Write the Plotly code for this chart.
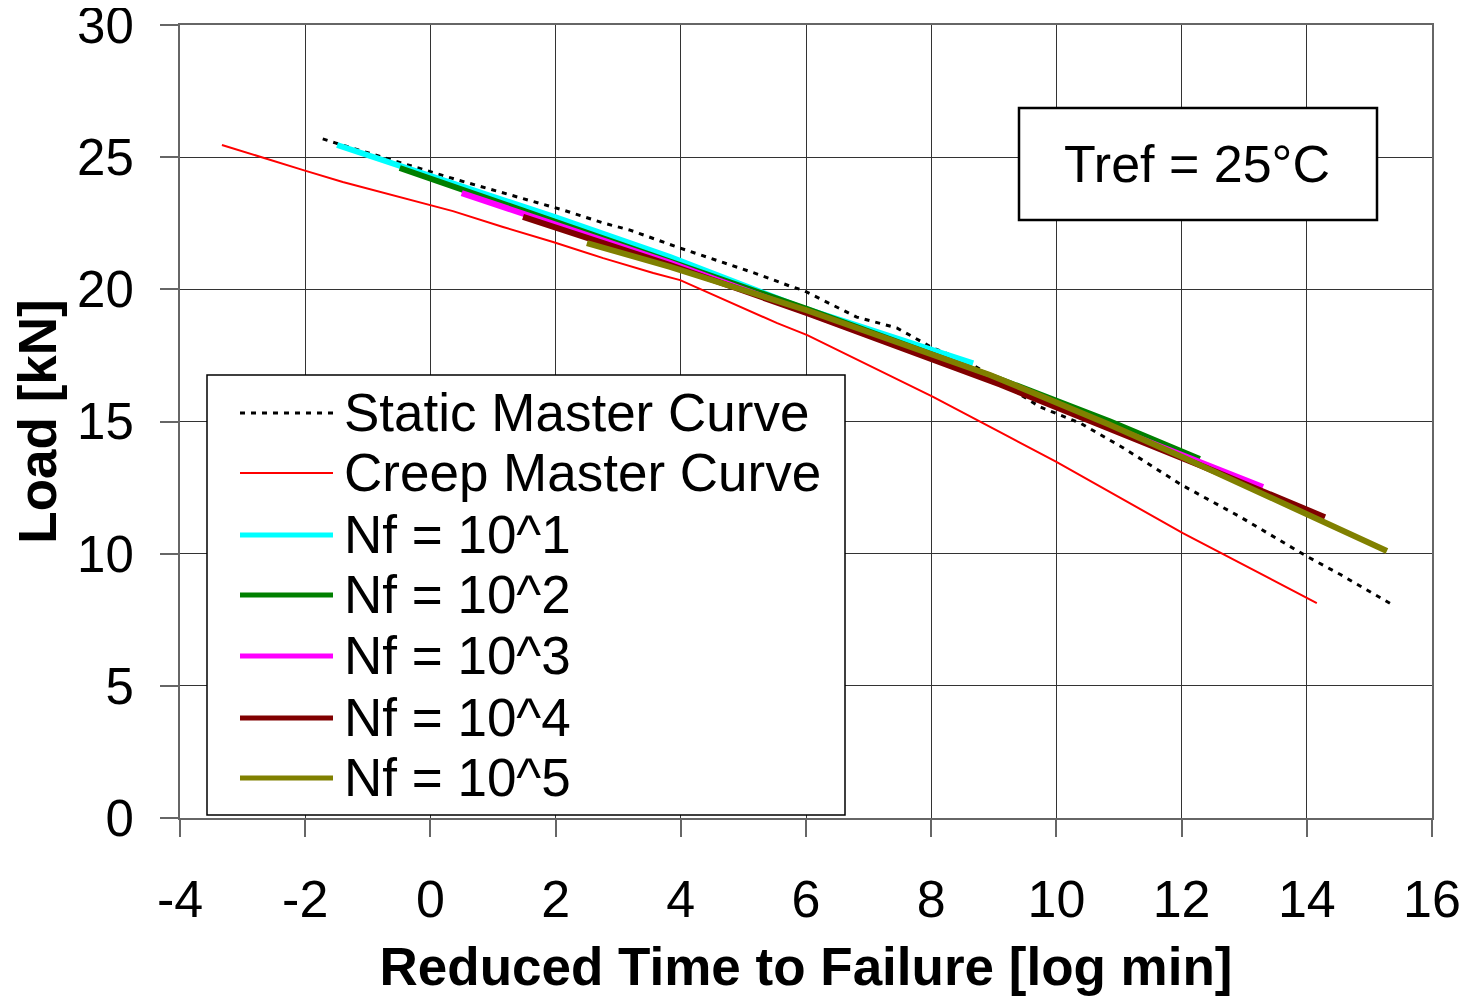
import plotly.graph_objects as go

# Reduced time to failure [log min] vs load [kN]
static_x = [-1.72, -1.52, 0.39, 1.43, 2.12, 2.76, 3.19, 3.94, 5.27, 5.78, 5.95, 6.81,
            7.45, 8.03, 8.62, 9.74, 10.38, 11.07, 12.0, 12.93, 14.0, 14.53, 15.38]
static_y = [25.69, 25.54, 24.17, 23.46, 23.0, 22.51, 22.24, 21.6, 20.54, 20.09, 19.97, 18.95,
            18.54, 17.78, 17.21, 15.55, 14.94, 14.0, 12.6, 11.4, 9.9, 9.22, 8.05]

creep_x = [-3.33, -2.93, -2.03, -1.40, -0.44, 0.36, 1.16, 1.96, 2.76, 3.56, 3.99,
           5.54, 6.02, 7.39, 8.03, 9.10, 9.63, 10.0, 12.02, 13.36, 14.16]
creep_y = [25.46, 25.16, 24.51, 24.06, 23.45, 22.96, 22.36, 21.79, 21.18, 20.62, 20.35,
           18.72, 18.27, 16.68, 15.93, 14.6, 13.92, 13.47, 10.78, 9.12, 8.13]

nf1_x = [-1.49, 0.0, 2.0, 3.83, 5.90, 6.65, 8.67]
nf1_y = [25.46, 24.29, 22.72, 21.22, 19.33, 18.76, 17.2]

nf2_x = [-0.49, 3.83, 6.02, 9.1, 10.86, 12.29]
nf2_y = [24.59, 21.03, 19.25, 16.6, 15.0, 13.58]

nf3_x = [0.50, 3.83, 6.02, 9.1, 12.29, 13.3]
nf3_y = [23.64, 21.0, 19.12, 16.45, 13.47, 12.52]

nf4_x = [1.48, 3.83, 6.02, 9.1, 12.29, 14.29]
nf4_y = [22.74, 20.92, 19.1, 16.4, 13.35, 11.38]

nf5_x = [2.50, 3.83, 6.02, 8.94, 10.86, 12.02, 15.28]
nf5_y = [21.75, 20.85, 19.2, 16.76, 14.87, 13.65, 10.1]

x_ticks = [-4, -2, 0, 2, 4, 6, 8, 10, 12, 14, 16]
x_ticktext = ["-4", "-2", "0", "2", "4", "6", "8", "10", "12", "14", "16"]
y_ticks = [0, 5, 10, 15, 20, 25, 30]

names = ["Static Master Curve", "Creep Master Curve", "Nf = 10^1", "Nf = 10^2",
         "Nf = 10^3", "Nf = 10^4", "Nf = 10^5"]
colors = ["black", "#ff0000", "#00ffff", "#008000", "#ff00ff", "#800000", "#808000"]
widths = [3, 2, 6, 6, 6, 6, 6]
dashes = ["5px,6px", "solid", "solid", "solid", "solid", "solid", "solid"]
series = [(static_x, static_y), (creep_x, creep_y), (nf1_x, nf1_y), (nf2_x, nf2_y),
          (nf3_x, nf3_y), (nf4_x, nf4_y), (nf5_x, nf5_y)]

FONT = "Arial, Liberation Sans, sans-serif"
OFF = 8  # the page body has an 8px margin; lay out in page pixels then shift
W, H = 1468 - OFF, 996 - OFF
L, R, T, B = 180, 1432, 25, 818  # plot area in page pixels


def px(x):
    return (x - L) / (R - L)


def py(y):
    return (B - y) / (B - T)


fig = go.Figure()
for (xs, ys), name, c, w, d in zip(series, names, colors, widths, dashes):
    fig.add_trace(go.Scatter(x=xs, y=ys, mode="lines", name=name,
                             line=dict(color=c, width=w, dash=d), showlegend=False))

shapes = []
annotations = []

# hand-made legend box (long line samples like the original)
shapes.append(dict(type="rect", xref="paper", yref="paper",
                   x0=px(207), x1=px(845), y0=py(815), y1=py(375),
                   line=dict(color="black", width=1.5), fillcolor="white", layer="above"))
rows = [413, 473, 535, 595, 656, 718, 778]
for row, name, c, w, d in zip(rows, names, colors, widths, dashes):
    shapes.append(dict(type="line", xref="paper", yref="paper",
                       x0=px(240), x1=px(333), y0=py(row), y1=py(row),
                       line=dict(color=c, width=min(w, 5), dash=d), layer="above"))
    annotations.append(dict(xref="paper", yref="paper", x=px(342), y=py(row - 1),
                            text=name, showarrow=False, xanchor="left", yanchor="middle",
                            font=dict(size=53, color="black", family=FONT)))

# Tref box
shapes.append(dict(type="rect", xref="paper", yref="paper",
                   x0=px(1019), x1=px(1377), y0=py(220), y1=py(108),
                   line=dict(color="black", width=2.5), fillcolor="white", layer="above"))
annotations.append(dict(xref="paper", yref="paper", x=px(1197), y=py(164),
                        text="Tref = 25°C", showarrow=False, xanchor="center", yanchor="middle",
                        font=dict(size=52, color="black", family=FONT)))

fig.update_layout(
    width=W, height=H,
    margin=dict(l=L - OFF, r=1468 - R, t=T - OFF, b=996 - B),
    paper_bgcolor="white", plot_bgcolor="white",
    font=dict(family=FONT, color="black"),
    shapes=shapes, annotations=annotations,
)
fig.update_xaxes(
    range=[-4, 16], tickmode="array", tickvals=x_ticks, ticktext=x_ticktext,
    showgrid=True, gridcolor="#333333", gridwidth=1,
    showline=True, linecolor="#666666", linewidth=2, mirror=True,
    ticks="outside", ticklen=17, tickcolor="#666666", tickwidth=2,
    tickfont=dict(size=52, family=FONT), ticklabelstandoff=18,
    ticklabeloverflow="allow", automargin=False,
    zeroline=False,
    title=dict(text="<b>Reduced Time to Failure [log min]</b>",
               font=dict(size=53, family=FONT), standoff=20),
)
fig.update_yaxes(
    range=[0, 30], tickmode="array", tickvals=y_ticks,
    showgrid=True, gridcolor="#333333", gridwidth=1,
    showline=True, linecolor="#666666", linewidth=2, mirror=True,
    ticks="outside", ticklen=18, tickcolor="#666666", tickwidth=2,
    tickfont=dict(size=51, family=FONT), ticklabelstandoff=16,
    ticklabeloverflow="allow", automargin=False,
    zeroline=False,
    title=dict(text="<b>Load [kN]</b>", font=dict(size=53, family=FONT), standoff=12),
)

fig.write_html("out.html")
